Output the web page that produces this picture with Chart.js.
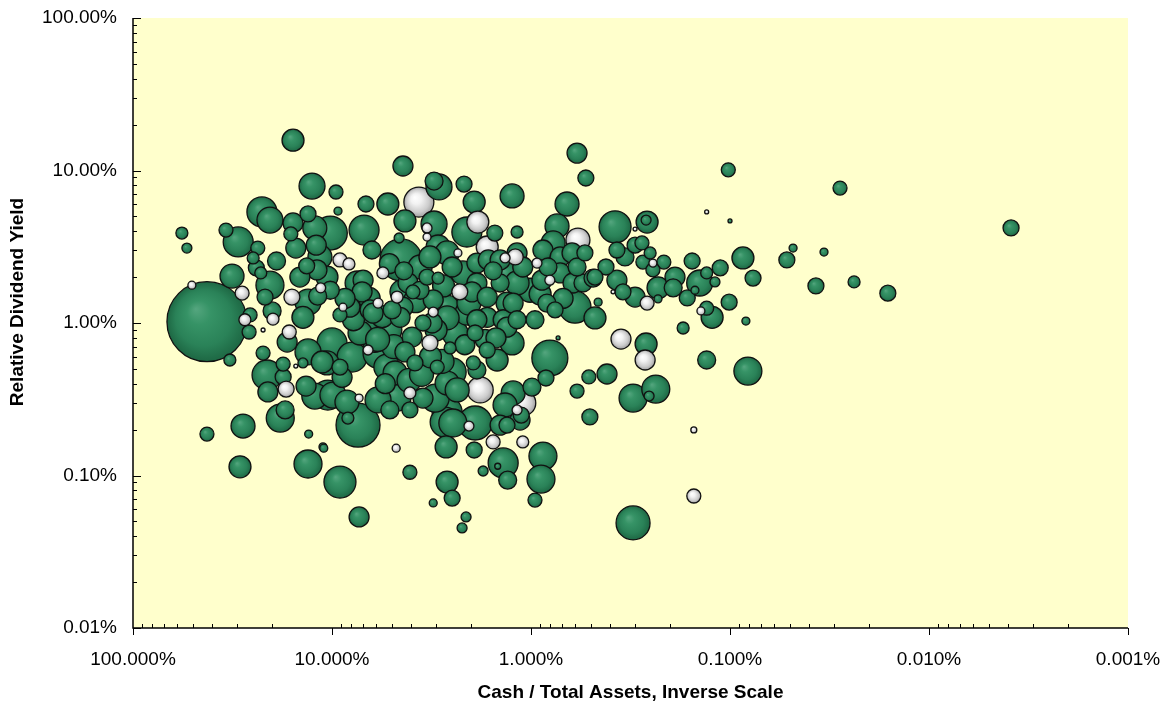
<!DOCTYPE html>
<html>
<head>
<meta charset="utf-8">
<title>Relative Dividend Yield vs Cash / Total Assets</title>
<script src="https://cdn.jsdelivr.net/npm/chart.js@4.4.1/dist/chart.umd.min.js"></script>
<style>
  html, body { margin: 0; padding: 0; background: #ffffff; }
  #wrap { width: 1167px; height: 704px; }
</style>
</head>
<body>
<div id="wrap"><canvas id="bubbleChart" width="1167" height="704"></canvas></div>
<script>
// cash / total assets, in percent (one entry per company)
var cashPct = [
  56.8, 53.6, 50.6, 42.5, 42.5, 32.6, 29.0, 28.0, 15.7, 12.6,
  22.5, 20.5, 34.1, 29.6, 23.6, 24.9, 31.8, 22.8, 20.5, 28.3,
  21.7, 20.0, 19.8, 15.9, 15.7, 16.1, 15.2, 12.2, 13.2, 12.0,
  13.4, 11.9, 11.4, 13.2, 14.0, 27.4, 26.1, 25.8, 22.2, 22.2,
  21.2, 21.0, 17.6, 17.0, 17.6, 16.8, 16.4, 13.2, 14.0, 15.2,
  13.5, 12.2, 11.2, 18.2, 17.2, 13.2, 13.1, 11.1, 9.12, 7.31,
  4.40, 3.07, 2.90, 2.17, 9.55, 6.75, 5.24, 3.66, 1.93, 1.245,
  9.33, 6.90, 4.30, 1.85, 2.10, 3.07, 3.33, 3.33, 4.60, 10.2,
  4.50, 6.30, 9.12, 8.22, 5.55, 6.98, 1.66, 1.35, 1.52, 1.175,
  1.175, 11.5, 7.48, 7.06, 4.45, 4.15, 3.61, 3.22, 2.93, 2.64,
  2.49, 2.33, 2.20, 1.87, 1.64, 1.43, 1.32, 1.43, 1.87, 2.28,
  1.98, 1.66, 1.32, 3.33, 2.93, 3.61, 3.10, 2.64, 2.10, 1.66,
  1.38, 4.40, 4.99, 5.87, 6.44, 8.13, 9.12, 8.81, 10.2, 10.6,
  4.55, 3.49, 3.10, 3.92, 4.71, 10.0, 7.93, 9.12, 10.6, 10.5,
  8.41, 8.32, 6.67, 7.23, 5.87, 5.12, 6.22, 3.96, 4.30, 3.83,
  5.30, 4.82, 3.22, 3.14, 2.64, 2.55, 2.96, 2.49, 2.64, 2.35,
  1.87, 1.95, 1.48, 1.87, 1.32, 1.245, 1.91, 1.66, 4.71, 4.06,
  3.49, 3.03, 2.64, 2.47, 5.12, 4.06, 1.23, 1.35, 1.175, 1.135,
  1.32, 7.40, 7.31, 5.87, 9.89, 6.59, 1.80, 1.91, 2.70, 1.43,
  2.05, 11.0, 4.76, 4.06, 3.10, 2.64, 2.49, 2.22, 2.12, 1.93,
  1.74, 1.55, 1.47, 1.38, 1.31, 1.10, 0.871, 0.891, 0.955, 2.67,
  0.307, 0.152, 0.152, 0.587, 0.530, 0.659, 0.740, 0.581, 0.378, 0.261,
  0.264, 0.300, 0.131, 0.155, 0.215, 0.244, 0.274, 0.244, 0.300, 0.337,
  0.370, 0.277, 0.252, 0.420, 0.477, 0.370, 0.345, 0.300, 0.230, 0.189,
  0.193, 0.164, 0.142, 0.150, 0.230, 0.261, 0.140, 0.460, 0.387, 0.601,
  0.477, 0.757, 1.01, 0.172, 0.955, 0.353, 0.264, 0.267, 0.131, 0.804,
  0.841, 0.989, 0.512, 0.415, 0.587, 0.307, 0.236, 0.255, 0.506, 1.10,
  1.12, 0.731, 1.20, 0.933, 1.10, 0.871, 0.774, 0.714, 0.822, 0.714,
  0.804, 0.881, 1.175, 1.23, 0.832, 1.175, 0.548, 0.587, 0.622, 0.536,
  0.488, 0.615, 0.102, 0.0280, 0.100, 0.00387, 0.0482, 0.0337, 0.0861, 0.0518,
  0.112, 0.0766, 0.131, 0.119, 0.0370, 0.0238, 0.0161, 0.101, 0.131, 0.123,
  0.0832, 0.0813,
  3.80, 5.60, 6.10, 4.90, 2.40, 3.20, 4.10, 5.40, 6.50, 2.80,
  1.70, 2.05, 8.60, 7.80, 3.55, 2.15, 4.35, 5.15, 1.55, 2.75,
  19.0, 24.0, 14.5, 11.8, 8.90, 0.690, 0.900, 1.50, 3.00, 5.90
];

// relative dividend yield, in percent
var yieldPct = [
  3.89, 3.10, 1.77, 1.02, 0.187, 0.572, 0.114, 0.211, 15.8, 7.91,
  5.35, 4.73, 4.07, 3.40, 3.10, 2.67, 2.03, 2.13, 1.77, 1.57,
  1.48, 1.20, 1.06, 1.48, 4.53, 3.84, 3.10, 4.20, 5.19, 3.24,
  2.37, 2.23, 1.70, 1.37, 1.09, 1.05, 0.873, 1.13, 0.900, 0.635,
  0.456, 0.353, 0.443, 0.369, 0.538, 0.750, 0.873, 0.646, 0.547, 0.522,
  0.386, 0.332, 0.555, 0.238, 0.269, 0.119, 0.187, 0.154, 0.0906, 0.0535,
  10.7, 8.53, 7.80, 8.15, 7.23, 6.03, 6.03, 6.21, 6.21, 6.81,
  5.42, 4.07, 4.67, 4.59, 3.95, 4.46, 4.20, 3.66, 3.61, 3.89,
  2.59, 3.01, 2.59, 2.44, 2.13, 1.91, 3.15, 2.67, 3.89, 3.95,
  2.88, 2.71, 1.83, 1.60, 1.60, 1.83, 2.33, 2.71, 3.15, 2.88,
  2.33, 2.88, 2.13, 2.47, 2.59, 2.59, 2.07, 1.83, 1.83, 1.60,
  1.60, 1.48, 1.35, 2.00, 1.97, 1.64, 1.42, 1.27, 1.16, 1.09,
  1.05, 1.27, 1.22, 1.35, 1.22, 1.27, 1.13, 1.27, 1.64, 2.00,
  1.09, 1.00, 1.18, 1.60, 1.48, 0.740, 0.598, 0.514, 0.547, 0.337,
  0.303, 0.238, 1.00, 0.860, 0.635, 0.900, 1.16, 0.809, 0.646, 0.547,
  0.514, 0.470, 0.740, 1.00, 1.08, 0.686, 0.514, 0.478, 0.404, 0.364,
  0.492, 0.547, 0.572, 1.05, 0.94, 0.740, 0.860, 0.665, 0.327, 0.348,
  0.322, 0.322, 0.261, 0.221, 0.269, 0.269, 0.348, 0.290, 0.269, 0.231,
  0.214, 0.214, 0.322, 0.313, 0.337, 0.665, 0.364, 0.221, 0.224, 0.214,
  0.211, 0.151, 0.151, 0.105, 0.0661, 0.0906, 0.0711, 0.0453, 0.0535, 0.147,
  0.107, 0.166, 0.115, 0.121, 0.0933, 0.166, 0.134, 0.0948, 0.0690, 0.154,
  0.0489, 0.0734, 0.199, 13.0, 8.93, 6.03, 4.33, 3.50, 4.27, 4.59,
  4.73, 4.13, 5.35, 2.55, 2.51, 2.47, 2.51, 2.23, 3.24, 2.71,
  3.01, 3.35, 2.88, 2.33, 2.00, 1.91, 1.60, 1.48, 1.70, 2.00,
  1.70, 1.46, 1.83, 1.64, 1.44, 1.35, 1.20, 1.37, 1.60, 1.27,
  1.08, 1.22, 1.64, 0.927, 1.05, 0.785, 0.728, 0.572, 0.572, 0.589,
  0.436, 0.380, 0.443, 0.463, 0.358, 0.322, 0.369, 0.332, 0.242, 0.299,
  0.249, 0.798, 2.71, 2.47, 2.33, 3.01, 3.35, 2.71, 2.33, 2.13,
  1.91, 1.91, 1.83, 1.35, 1.35, 1.05, 1.83, 2.33, 2.88, 2.88,
  1.97, 1.83, 10.1, 7.67, 4.67, 4.20, 3.10, 2.92, 2.67, 2.59,
  2.30, 1.97, 2.13, 1.86, 1.75, 1.86, 1.57, 1.37, 1.25, 1.09,
  1.03, 0.484,
  1.40, 1.10, 0.780, 0.700, 0.850, 0.600, 0.420, 0.400, 1.45, 0.560,
  0.780, 1.35, 1.45, 1.05, 0.460, 0.720, 2.20, 2.45, 2.20, 1.75,
  2.55, 2.30, 2.00, 1.50, 0.440, 1.45, 1.55, 0.800, 0.900, 0.780
];

// relative company size (bubble size)
var capIndex = [
  6, 5, 4, 40, 7, 6, 11, 12, 11, 13,
  15, 13, 7, 15, 7, 6, 12, 6, 14, 7,
  8, 9, 6, 8, 10, 7, 10, 12, 8, 10,
  8, 10, 5, 13, 11, 6, 7, 7, 2, 7,
  15, 10, 8, 8, 7, 10, 7, 13, 5, 2,
  10, 13, 11, 14, 9, 14, 4, 4, 16, 10,
  10, 9, 13, 8, 7, 8, 11, 15, 11, 12,
  4, 15, 11, 11, 15, 13, 5, 4, 5, 17,
  21, 9, 7, 6, 6, 10, 11, 5, 8, 6,
  10, 12, 12, 10, 12, 10, 12, 11, 12, 12,
  10, 4, 12, 10, 10, 10, 12, 9, 10, 8,
  10, 10, 11, 8, 6, 9, 10, 12, 12, 10,
  10, 10, 9, 5, 10, 10, 7, 4, 9, 11,
  10, 8, 5, 7, 6, 15, 15, 8, 12, 15,
  12, 6, 12, 12, 15, 12, 10, 10, 10, 8,
  13, 12, 8, 10, 12, 6, 7, 14, 12, 12,
  9, 7, 11, 10, 10, 12, 8, 8, 14, 6,
  10, 14, 15, 14, 9, 8, 12, 12, 5, 10,
  8, 22, 4, 13, 13, 5, 13, 17, 15, 10,
  5, 4, 4, 7, 4, 11, 8, 5, 5, 8,
  5, 7, 3, 15, 9, 6, 14, 14, 7, 11,
  17, 7, 3, 10, 8, 12, 12, 12, 16, 11,
  5, 2, 2, 8, 7, 4, 7, 7, 8, 9,
  8, 7, 6, 8, 8, 10, 8, 10, 11, 10,
  9, 8, 13, 4, 4, 7, 4, 4, 2, 16,
  11, 8, 12, 6, 9, 10, 11, 10, 9, 18,
  8, 9, 7, 10, 7, 14, 14, 5, 8, 13,
  8, 2, 8, 5, 10, 10, 12, 10, 9, 10,
  5, 10, 12, 10, 9, 9, 9, 9, 10, 8,
  9, 10, 7, 7, 2, 8, 4, 4, 11, 8,
  8, 8, 6, 5, 8, 6, 8, 8, 7, 11,
  4, 14,
  12, 11, 13, 12, 13, 11, 12, 10, 11, 12,
  10, 12, 10, 11, 12, 10, 9, 10, 9, 11,
  9, 8, 10, 9, 10, 10, 11, 10, 11, 12
];

// 1 = silver bubble, 0 = green bubble
var silverFlag = [
  0,0,1,0,0,0,0,0,0,0,
  0,0,0,0,0,0,0,0,0,1,
  0,0,1,1,0,0,0,0,0,0,
  0,0,1,0,0,1,0,0,1,0,
  0,0,0,1,0,0,1,0,0,1,
  0,0,0,0,0,0,0,0,0,0,
  0,0,0,0,0,0,0,1,0,0,
  0,0,0,1,0,0,1,1,0,0,
  0,0,1,1,1,0,1,1,0,0,
  0,0,0,0,0,0,0,0,0,0,
  0,1,0,0,0,0,0,0,0,1,
  0,0,0,0,0,0,0,0,0,0,
  0,0,0,1,0,0,0,1,0,0,
  0,0,1,0,1,0,0,0,0,0,
  0,0,0,0,0,0,0,0,0,0,
  0,0,1,0,0,0,0,0,0,0,
  0,0,0,0,0,0,0,0,0,1,
  0,0,0,0,0,0,0,0,1,0,
  0,0,1,0,0,1,1,0,0,0,
  1,0,1,0,0,0,0,0,0,0,
  0,1,0,0,0,1,0,0,0,0,
  0,1,1,0,0,0,0,1,0,0,
  0,1,1,0,0,1,0,0,0,0,
  0,0,0,0,0,0,0,0,0,0,
  0,0,0,0,0,1,1,0,1,0,
  0,0,0,0,0,1,0,1,0,0,
  0,0,0,0,0,0,0,0,0,1,
  0,0,1,1,0,0,0,0,0,0,
  1,0,0,0,0,0,0,0,0,0,
  0,0,0,0,0,0,0,0,0,0,
  0,0,0,0,0,0,0,0,0,0,
  0,0,
  0,0,0,0,0,0,0,0,0,0,
  0,0,0,0,0,0,0,0,0,0,
  0,0,0,0,0,0,0,0,0,0
];

// axis tick labels (decades)
var xDecades = [100, 10, 1, 0.1, 0.01, 0.001];
var xTickLabels = ['100.000%', '10.000%', '1.000%', '0.100%', '0.010%', '0.001%'];
var yDecades = [100, 10, 1, 0.1, 0.01];
var yTickLabels = ['100.00%', '10.00%', '1.00%', '0.10%', '0.01%'];

var FONT = '"Liberation Sans", Arial, Helvetica, sans-serif';

// build points, big bubbles first so the small ones stay visible on top
var points = [];
var n = Math.min(cashPct.length, yieldPct.length, capIndex.length, silverFlag.length);
for (var i = 0; i < n; i++) {
  points.push({ x: cashPct[i], y: yieldPct[i], r: capIndex[i], silver: silverFlag[i] === 1 });
}
points.sort(function(a, b) { return b.r - a.r; });

// shaded ball fill
function bubbleFill(ctx) {
  var p = ctx.raw;
  var flat = (p && p.silver) ? '#d8d8d8' : '#2a8458';
  if (ctx.type !== 'data' || !p) return flat;
  var chart = ctx.chart;
  if (!chart.scales || !chart.scales.x || !chart.scales.y) return flat;
  var cx = chart.scales.x.getPixelForValue(p.x);
  var cy = chart.scales.y.getPixelForValue(p.y);
  var r = Math.max(p.r, 1);
  if (!isFinite(cx) || !isFinite(cy)) return flat;
  var g = chart.ctx.createRadialGradient(cx - r * 0.28, cy - r * 0.32, 0, cx, cy, r);
  if (p.silver) {
    g.addColorStop(0, '#ffffff');
    g.addColorStop(0.35, '#f2f2f2');
    g.addColorStop(0.75, '#cccccc');
    g.addColorStop(1, '#a0a0a0');
  } else {
    g.addColorStop(0, '#55a67f');
    g.addColorStop(0.3, '#369366');
    g.addColorStop(0.7, '#2a8258');
    g.addColorStop(1, '#1d6743');
  }
  return g;
}

var chartDecor = {
  id: 'chartDecor',
  beforeDraw: function(chart) {
    var c = chart.ctx, a = chart.chartArea;
    c.save();
    c.fillStyle = '#ffffff';
    c.fillRect(0, 0, chart.width, chart.height);
    c.fillStyle = '#ffffcc';
    c.fillRect(a.left, a.top, a.right - a.left, a.bottom - a.top);
    c.restore();
  },
  afterDraw: function(chart) {
    var c = chart.ctx, a = chart.chartArea;
    var xs = chart.scales.x, ys = chart.scales.y;
    var e, m, v, p, k;
    c.save();
    c.strokeStyle = '#000000';
    c.lineWidth = 1;

    // x ticks: majors outside, minors inside
    for (e = -3; e <= 2; e++) {
      for (m = 1; m <= 9; m++) {
        v = m * Math.pow(10, e);
        if (v > 100.0001) break;
        p = Math.round(xs.getPixelForValue(v)) + 0.5;
        c.beginPath();
        if (m === 1) { c.moveTo(p, a.bottom); c.lineTo(p, a.bottom + 7); }
        else { c.moveTo(p, a.bottom); c.lineTo(p, a.bottom - 4); }
        c.stroke();
      }
    }
    // y ticks: all inside
    for (e = -2; e <= 2; e++) {
      for (m = 1; m <= 9; m++) {
        v = m * Math.pow(10, e);
        if (v > 100.0001) break;
        p = Math.round(ys.getPixelForValue(v)) + 0.5;
        c.beginPath();
        c.moveTo(a.left, p);
        c.lineTo(a.left + (m === 1 ? 8 : 4), p);
        c.stroke();
      }
    }

    // axis lines
    c.lineWidth = 1.5;
    c.beginPath();
    c.moveTo(a.left, a.top);
    c.lineTo(a.left, a.bottom);
    c.lineTo(a.right, a.bottom);
    c.stroke();

    // tick labels
    c.fillStyle = '#000000';
    c.font = '19px ' + FONT;
    c.textBaseline = 'middle';
    c.textAlign = 'center';
    for (k = 0; k < xDecades.length; k++) {
      c.fillText(xTickLabels[k], xs.getPixelForValue(xDecades[k]), a.bottom + 32);
    }
    c.textAlign = 'right';
    for (k = 0; k < yDecades.length; k++) {
      c.fillText(yTickLabels[k], a.left - 16, ys.getPixelForValue(yDecades[k]));
    }

    // axis titles
    c.font = 'bold 19px ' + FONT;
    c.textAlign = 'center';
    c.fillText('Cash / Total Assets, Inverse Scale', (a.left + a.right) / 2, 693);
    c.translate(18, 302);
    c.rotate(-Math.PI / 2);
    c.fillText('Relative Dividend Yield', 0, 0);
    c.restore();
  }
};

var ctx = document.getElementById('bubbleChart').getContext('2d');
var bubbleChart = new Chart(ctx, {
  type: 'bubble',
  data: {
    datasets: [{
      label: 'Companies',
      data: points,
      backgroundColor: bubbleFill,
      borderColor: '#111111',
      borderWidth: 1.3,
      hoverRadius: 0,
      clip: false
    }]
  },
  options: {
    responsive: false,
    animation: false,
    events: [],
    layout: { autoPadding: false, padding: { top: 18, right: 39, left: 0, bottom: 0 } },
    plugins: {
      legend: { display: false },
      tooltip: { enabled: false }
    },
    scales: {
      x: {
        type: 'logarithmic',
        reverse: true,
        min: 0.001,
        max: 100,
        grid: { display: false, drawTicks: false },
        border: { display: false },
        ticks: { display: false },
        afterFit: function(scale) { scale.height = 76; }
      },
      y: {
        type: 'logarithmic',
        min: 0.01,
        max: 100,
        grid: { display: false, drawTicks: false },
        border: { display: false },
        ticks: { display: false },
        afterFit: function(scale) { scale.width = 133; }
      }
    }
  },
  plugins: [chartDecor]
});
</script>
</body>
</html>
